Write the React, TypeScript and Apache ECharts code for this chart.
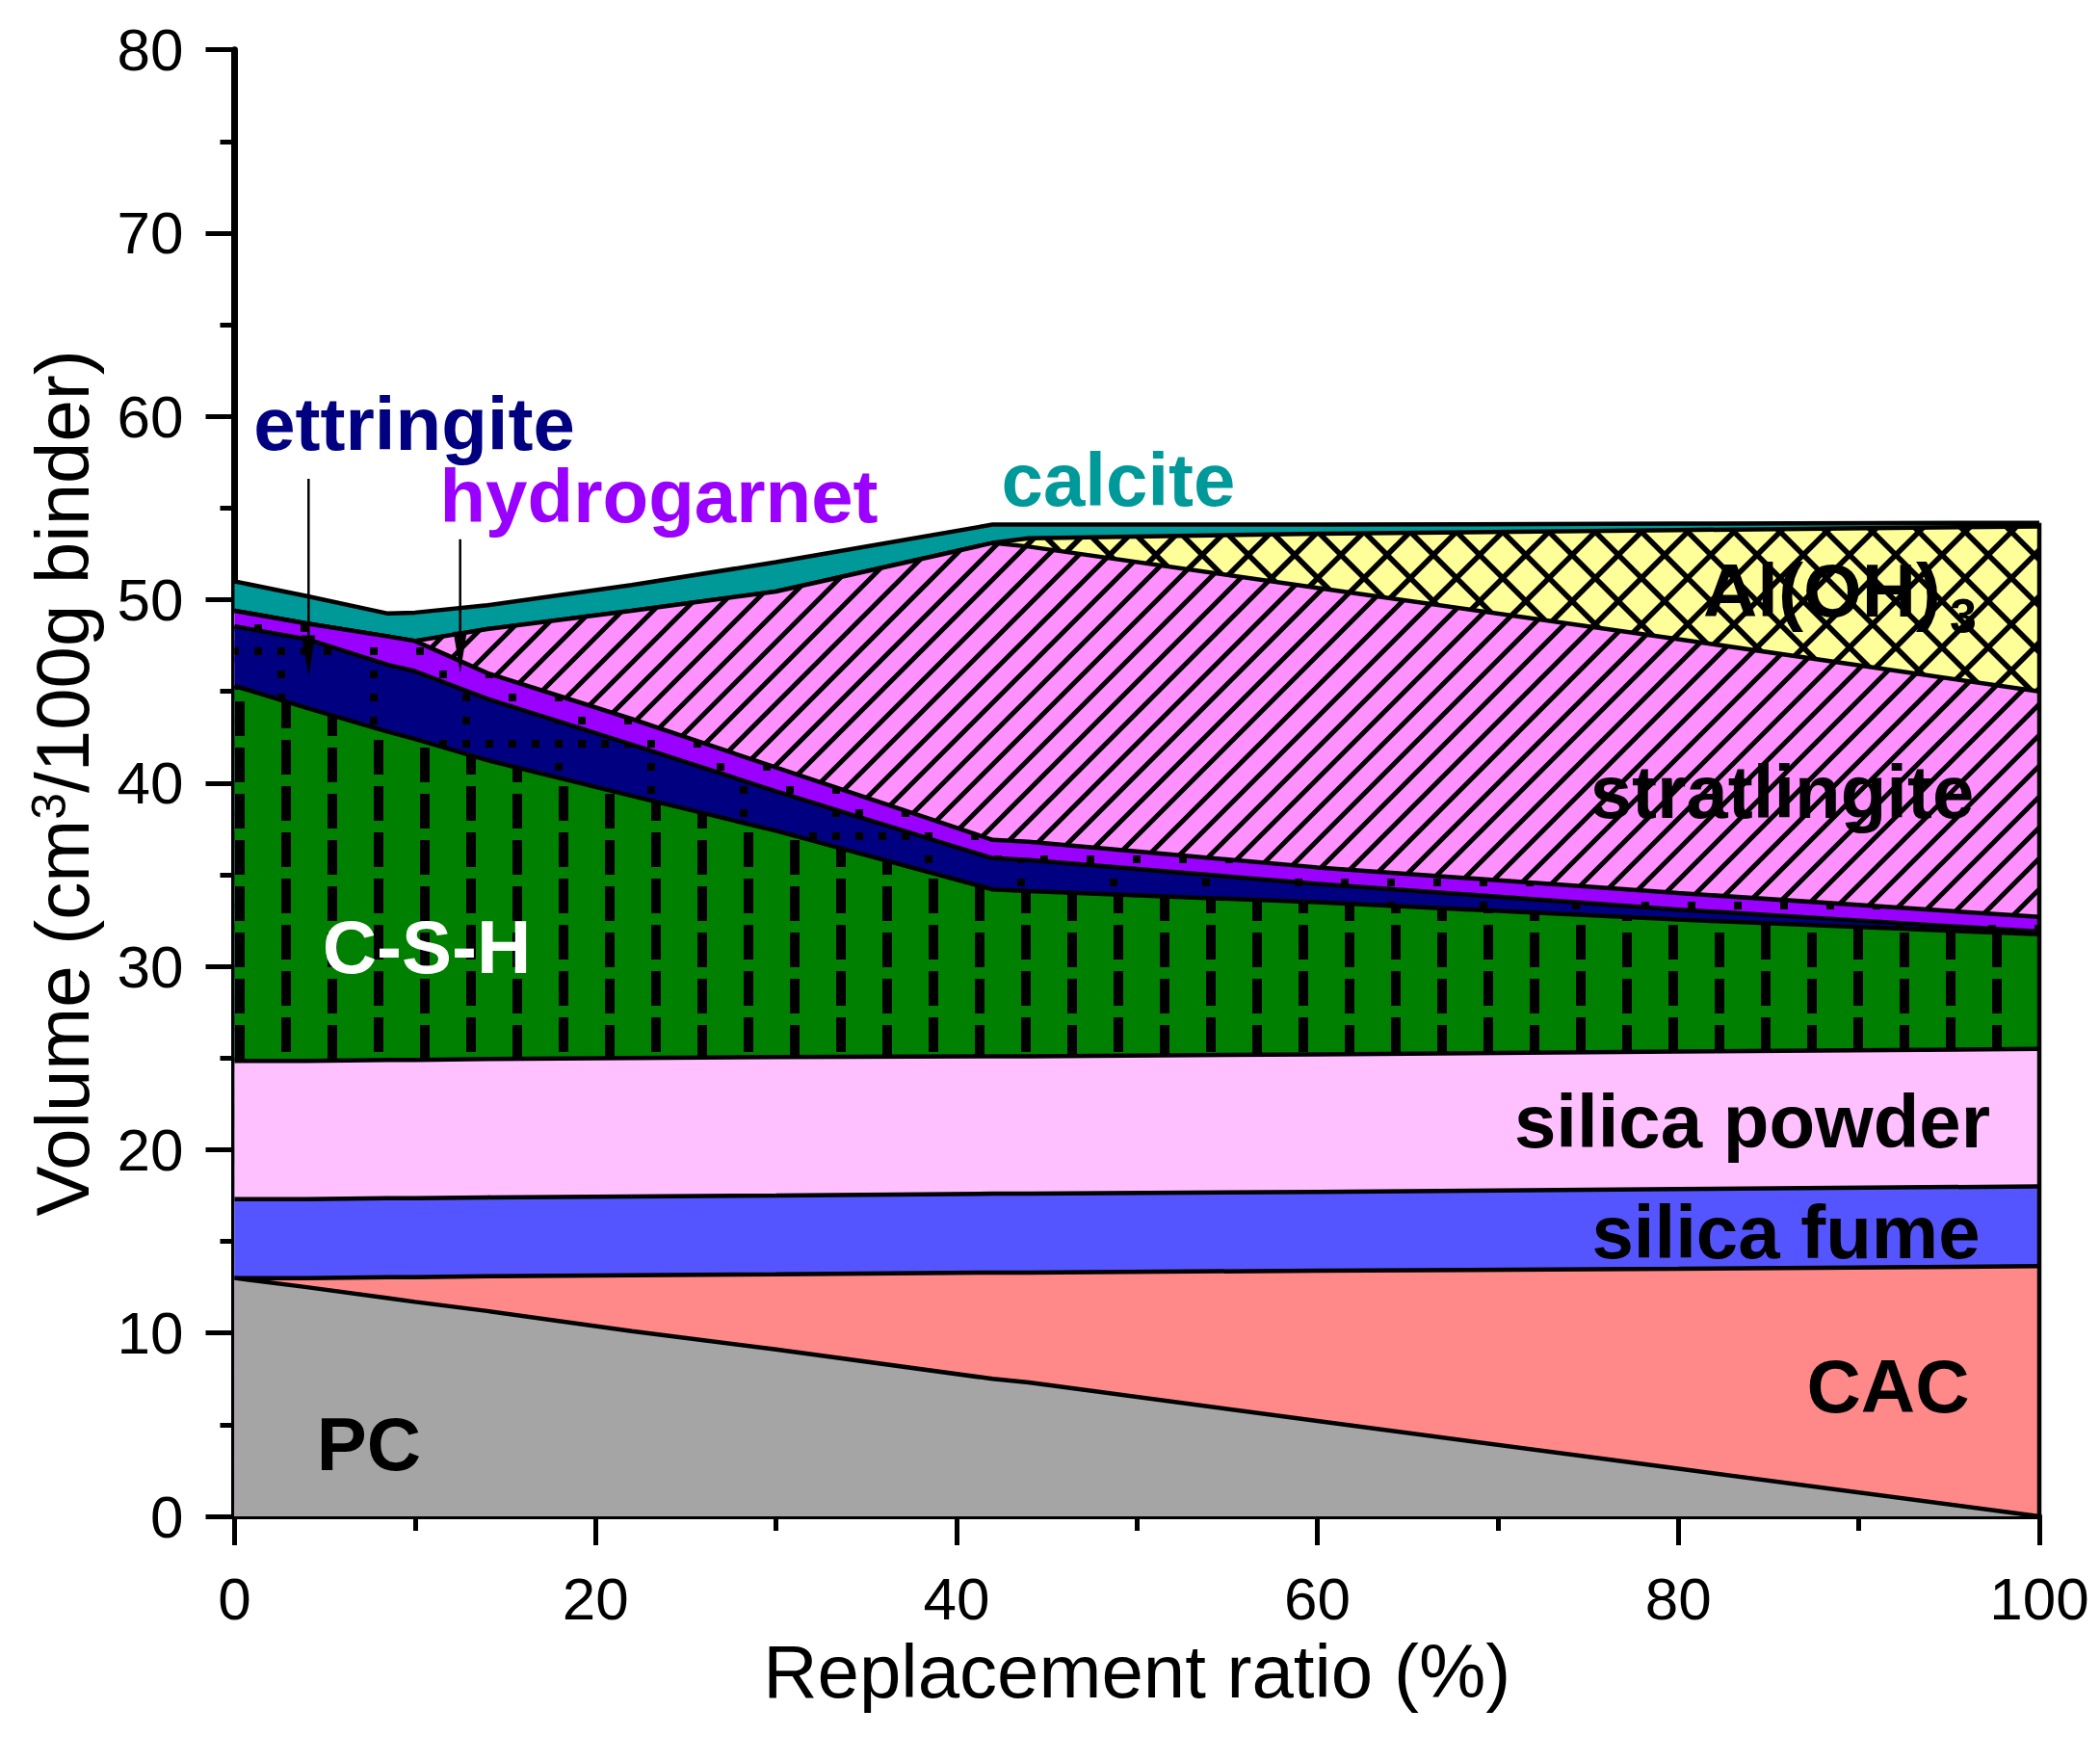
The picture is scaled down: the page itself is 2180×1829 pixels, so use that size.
import { useEffect, useRef } from "react"
import * as echarts from "echarts"

// replacement ratio (%) and phase volumes (cm3/100g binder)
const ratio = [0, 4, 8.5, 10, 14, 22, 30, 42, 44, 60, 80, 100]
const pc = [13.0, 12.5, 11.9, 11.7, 11.2, 10.1, 9.1, 7.5, 7.3, 5.2, 2.6, 0]
const cac = [0, 0.5, 1.15, 1.35, 1.9, 3.05, 4.1, 5.8, 6.0, 8.2, 10.9, 13.65]
const silicaFume = [4.3, 4.3, 4.3, 4.3, 4.3, 4.3, 4.3, 4.3, 4.3, 4.3, 4.35, 4.35]
const silicaPowder = [7.55, 7.55, 7.55, 7.55, 7.55, 7.55, 7.55, 7.5, 7.5, 7.5, 7.5, 7.5]
const csh = [20.45, 19.25, 17.9, 17.5, 16.3, 14.3, 12.35, 9.1, 9.0, 8.3, 7.2, 6.25]
const ettringite = [3.25, 3.75, 3.65, 3.7, 3.35, 2.8, 2.15, 1.7, 1.7, 1.0, 0.55, 0.15]
const hydrogarnet = [0.85, 0.85, 1.55, 1.65, 1.4, 1.4, 1.3, 1.0, 1.0, 0.9, 0.9, 0.8]
const stratlingite = [0, 0, 0, 0, 2.4, 5.9, 9.6, 16.2, 16.1, 15.25, 13.85, 12.3]
const alOH3 = [0, 0, 0, 0, 0, 0, 0, 0, 0.45, 2.95, 5.95, 9.0]
const calcite = [1.6, 1.5, 1.25, 1.55, 1.3, 1.4, 1.6, 1.0, 0.75, 0.5, 0.35, 0.2]

const FONT = "'Liberation Sans', Arial, sans-serif"
// the fill tiles come out at half size, so they are drawn twice as large
const TILE = 2

type Painter = (ctx: CanvasRenderingContext2D, w: number, h: number) => void

function makePattern(w: number, h: number, bg: string, paint?: Painter) {
  const c = document.createElement("canvas")
  c.width = w * TILE
  c.height = h * TILE
  const ctx = c.getContext("2d")!
  ctx.scale(TILE, TILE)
  ctx.fillStyle = bg
  ctx.fillRect(0, 0, w, h)
  if (paint) {
    ctx.fillStyle = "#000"
    ctx.strokeStyle = "#000"
    paint(ctx, w, h)
  }
  return { image: c, repeat: "repeat" }
}

// vertical dashes, every other column shifted a little
const cshPaint: Painter = (ctx) => {
  ctx.fillRect(2, 0, 5, 18)
  ctx.fillRect(26, 4, 5, 18)
}
// dotted grid
const ettPaint: Painter = (ctx) => {
  for (let i = 0; i < 4; i++) {
    ctx.fillRect(i * 12, 0, 4, 4)
    if (i > 0) ctx.fillRect(0, i * 12, 4, 4)
  }
}
// sparse dots
const hgPaint: Painter = (ctx) => {
  ctx.fillRect(0, 0, 4, 4)
  ctx.fillRect(12, 12, 4, 4)
}
// "/" hatch
const strPaint: Painter = (ctx, w, h) => {
  ctx.lineWidth = 2.5
  ctx.beginPath()
  for (const o of [-w, 0, w]) {
    ctx.moveTo(o - 2, h + 2)
    ctx.lineTo(o + w + 2, -2)
  }
  ctx.stroke()
}
// cross hatch
const alPaint: Painter = (ctx, w, h) => {
  ctx.lineWidth = 2.8
  ctx.beginPath()
  for (const o of [-w, 0, w]) {
    ctx.moveTo(o - 2, h + 2)
    ctx.lineTo(o + w + 2, -2)
    ctx.moveTo(o - 2, -2)
    ctx.lineTo(o + w + 2, h + 2)
  }
  ctx.stroke()
}

export default function App() {
  const chartRef = useRef<HTMLDivElement>(null)

  useEffect(() => {
    if (!chartRef.current) return
    const chart = echarts.init(chartRef.current, null, { renderer: "svg" })

    const layers = [
      { name: "PC", data: pc, fill: "#a5a5a5" as any },
      { name: "CAC", data: cac, fill: "#ff8888" },
      { name: "silica fume", data: silicaFume, fill: "#5555ff" },
      { name: "silica powder", data: silicaPowder, fill: "#ffc0ff" },
      { name: "C-S-H", data: csh, fill: makePattern(48, 24, "#008000", cshPaint) },
      { name: "ettringite", data: ettringite, fill: makePattern(48, 48, "#000080", ettPaint) },
      { name: "hydrogarnet", data: hydrogarnet, fill: makePattern(24, 24, "#9900ff", hgPaint) },
      { name: "stratlingite", data: stratlingite, fill: makePattern(16, 16, "#ff90ff", strPaint) },
      { name: "Al(OH)3", data: alOH3, fill: makePattern(24, 24, "#ffff99", alPaint) },
      { name: "calcite", data: calcite, fill: "#009999" },
    ]

    // cumulative upper boundary of each layer (stacking by hand: the x axis is a value axis)
    const tops: number[][] = []
    layers.forEach((l, i) => {
      tops.push(l.data.map((v, k) => (i ? tops[i - 1][k] : 0) + v))
    })

    const boldLabel = (text: string, x: number, y: number, fill: string, size = 78, align = "center") => ({
      type: "text",
      x,
      y,
      z: 100,
      style: {
        text,
        fill,
        fontSize: size,
        fontWeight: "bold",
        fontFamily: FONT,
        align,
        verticalAlign: "middle",
      },
    })

    const option = {
      animation: false,
      backgroundColor: "#fff",
      grid: { left: 243.5, right: 63, top: 51.7, bottom: 255 },
      xAxis: {
        type: "value",
        min: 0,
        max: 100,
        interval: 20,
        name: "Replacement ratio (%)",
        nameLocation: "middle",
        nameGap: 122,
        nameTextStyle: { fontSize: 78, color: "#000", fontFamily: FONT },
        axisLine: { show: true, lineStyle: { color: "#000", width: 6 } },
        axisTick: { show: true, length: 30, lineStyle: { color: "#000", width: 5 } },
        minorTick: { show: true, splitNumber: 2, length: 15, lineStyle: { color: "#000", width: 5 } },
        splitLine: { show: false },
        axisLabel: { fontSize: 62, color: "#000", fontFamily: FONT, margin: 54 },
      },
      yAxis: {
        type: "value",
        min: 0,
        max: 80,
        interval: 10,
        name: "Volume (cm{sup|3}/100g binder)",
        nameLocation: "middle",
        nameRotate: 90,
        nameGap: 140,
        nameTextStyle: {
          fontSize: 78,
          color: "#000",
          fontFamily: FONT,
          rich: {
            sup: { fontSize: 50, fontFamily: FONT, color: "#000", verticalAlign: "top", lineHeight: 50 },
          },
        },
        axisLine: { show: true, lineStyle: { color: "#000", width: 7 } },
        axisTick: { show: true, length: 30, lineStyle: { color: "#000", width: 5 } },
        minorTick: { show: true, splitNumber: 2, length: 15, lineStyle: { color: "#000", width: 5 } },
        splitLine: { show: false },
        axisLabel: { fontSize: 62, color: "#000", fontFamily: FONT, margin: 53 },
      },
      series: layers.map((l, i) => ({
        name: l.name,
        type: "line",
        z: 20 - i,
        symbol: "none",
        data: ratio.map((x, k) => [x, tops[i][k]]),
        lineStyle: { color: "#000", width: 4.5 },
        areaStyle: { color: l.fill, opacity: 1, origin: "start" },
      })),
    }

    chart.setOption(option as any)

    const px = (x: number, y: number) => chart.convertToPixel({ gridIndex: 0 }, [x, y]) as number[]
    const last = ratio.length - 1
    const r0 = px(ratio[last], 0)
    const r1 = px(ratio[last], tops[tops.length - 1][last])

    const arrow = (x: number, yTop: number, yTip: number) => {
      const a = px(x, yTop)
      const b = px(x, yTip)
      return [
        { type: "line", z: 100, shape: { x1: a[0], y1: a[1], x2: b[0], y2: b[1] - 30 }, style: { stroke: "#000", lineWidth: 2.5 } },
        {
          type: "polygon",
          z: 100,
          shape: { points: [[b[0], b[1]], [b[0] - 7, b[1] - 43], [b[0] + 7, b[1] - 43]] },
          style: { fill: "#000" },
        },
      ]
    }

    chart.setOption({
      graphic: [
        { type: "line", z: 90, shape: { x1: r0[0], y1: r0[1], x2: r1[0], y2: r1[1] }, style: { stroke: "#000", lineWidth: 4.5 } },
        ...arrow(4.1, 56.6, 45.8),
        ...arrow(12.5, 53.3, 46.0),
        boldLabel("ettringite", 430, 440, "#000080"),
        boldLabel("hydrogarnet", 684, 515, "#9900ff"),
        boldLabel("calcite", 1161, 498, "#009999"),
        boldLabel("Al(OH)", 1768, 613, "#000", 78, "left"),
        boldLabel("3", 2038, 640, "#000", 50),
        boldLabel("stratlingite", 1850, 822, "#000"),
        boldLabel("C-S-H", 443, 983, "#fff"),
        boldLabel("silica powder", 1819, 1164, "#000"),
        boldLabel("silica fume", 1854, 1279, "#000"),
        boldLabel("CAC", 1960, 1439, "#000"),
        boldLabel("PC", 383, 1499, "#000"),
      ],
    } as any)

    return () => {
      chart.dispose()
    }
  }, [])

  return (
    <div
      ref={chartRef}
      style={{ position: "fixed", left: 0, top: 0, width: 2180, height: 1829, background: "#fff" }}
    />
  )
}
